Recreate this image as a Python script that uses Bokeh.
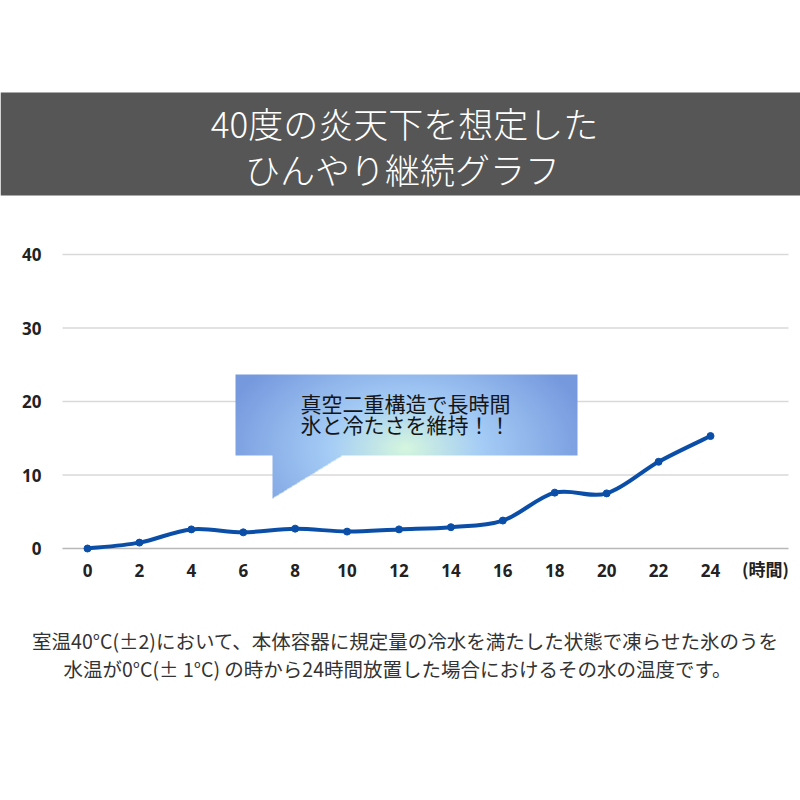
import numpy as np
from bokeh.plotting import figure
from bokeh.models import Range1d, LinearAxis, FixedTicker, Label, BoxAnnotation
from bokeh.embed import file_html
from bokeh.resources import INLINE

# ---- data ----
hours = [0, 2, 4, 6, 8, 10, 12, 14, 16, 18, 20, 22, 24]
temps = [0, 0.8, 2.6, 2.2, 2.7, 2.3, 2.6, 2.9, 3.8, 7.6, 7.5, 11.8, 15.3]
y_ticks = [0, 10, 20, 30, 40]
x_unit_label = "(時間)"
title_lines = ["40度の炎天下を想定した", "ひんやり継続グラフ"]
callout_lines = ["真空二重構造で長時間", "氷と冷たさを維持！！"]
note_lines = ["室温40°C(±2)において、本体容器に規定量の冷水を満たした状態で凍らせた氷のうを",
              "水温が0°C(± 1°C) の時から24時間放置した場合におけるその水の温度です。"]

# ---- pixel <-> data mapping (frame covers the whole canvas) ----
W = H = 800
X0, XS = 87.0, (710.0 - 87.0) / 24.0
Y0, YS = 548.0, (548.0 - 254.0) / 40.0
def px(v): return (v - X0) / XS
def py(v): return (Y0 - v) / YS

p = figure(width=W, height=H, output_backend="svg", toolbar_location=None,
           x_range=Range1d(px(0), px(W)), y_range=Range1d(py(H), py(0)),
           x_axis_type=None, y_axis_type=None, min_border=0)
p.outline_line_color = None
p.grid.visible = False
p.background_fill_color = "white"
p.border_fill_color = "white"

JP = "Noto Sans CJK JP"

# title band
p.add_layout(BoxAnnotation(left=px(0), right=px(W), top=py(92), bottom=py(195),
                           fill_color="#565656", fill_alpha=1, line_color=None, level="underlay"))
for i, t in enumerate(title_lines):
    p.add_layout(Label(x=px(404 if i == 0 else 402), y=py(122 + 46 * i), text=t, text_align="center",
                       text_baseline="middle", text_color="white", text_font_size="35px",
                       text_font="Noto Sans CJK JP Light, Noto Sans CJK JP"))

# grid lines
gl, gr = px(62), px(788)
p.segment(x0=[gl] * (len(y_ticks) - 1), y0=y_ticks[1:], x1=[gr] * (len(y_ticks) - 1), y1=y_ticks[1:],
          line_color="#d9d9d9", line_width=1.5)
p.segment(x0=[gl], y0=[y_ticks[0]], x1=[gr], y1=[y_ticks[0]], line_color="#b8b8b8", line_width=1.5)

# axes
xa = LinearAxis(fixed_location=0, ticker=FixedTicker(ticks=hours))
ya = LinearAxis(fixed_location=gl, ticker=FixedTicker(ticks=y_ticks))
for ax in (xa, ya):
    ax.axis_line_color = None
    ax.major_tick_line_color = None
    ax.minor_tick_line_color = None
    ax.major_label_text_font = "Open Sans"
    ax.major_label_text_font_style = "bold"
    ax.major_label_text_font_size = "17px"
    ax.major_label_text_color = "#222222"
xa.major_label_standoff = 9
ya.major_label_standoff = 15
p.add_layout(xa, "below")
p.add_layout(ya, "left")
p.add_layout(Label(x=px(765), y=py(568), text=x_unit_label, text_align="center",
                   text_baseline="middle", text_color="#222222", text_font_size="17px",
                   text_font=JP, text_font_style="bold"))

# callout (gradient image with mask)
L, R, T, B, TB = 235, 577, 374, 455, 498
w, h = R - L, TB - T
img = np.zeros((h, w), dtype=np.uint32)
view = img.view(dtype=np.uint8).reshape((h, w, 4))
xs = np.arange(w) + L + 0.5
for r in range(h):
    ypix = TB - r - 0.5
    d = np.sqrt(((xs - 405) / 190.0) ** 2 + ((ypix - 448) / 120.0) ** 2)
    d = np.clip(d, 0, 1)
    c0 = np.array([214, 247, 222]); c1 = np.array([165, 205, 246]); c2 = np.array([118, 153, 222])
    t1 = np.clip(d / 0.4, 0, 1)[:, None]
    t2 = np.clip((d - 0.4) / 0.6, 0, 1)[:, None]
    col = np.where(d[:, None] < 0.4, c0 + (c1 - c0) * t1, c1 + (c2 - c1) * t2)
    if ypix <= B:
        mask = np.ones(w, dtype=bool)
    else:
        xr = 272 + (342 - 272) * (TB - ypix) / (TB - B)
        mask = (xs >= 272) & (xs <= xr)
    view[r, :, 0] = col[:, 0]
    view[r, :, 1] = col[:, 1]
    view[r, :, 2] = col[:, 2]
    view[r, :, 3] = np.where(mask, 255, 0)
p.image_rgba(image=[img], x=px(L), y=py(TB), dw=w / XS, dh=h / YS)
for i, t in enumerate(callout_lines):
    p.add_layout(Label(x=px(405), y=py(402 + 21 * i), text=t, text_align="center",
                       text_baseline="middle", text_color="#151515", text_font_size="21px",
                       text_font=JP))

# smooth line through data (Catmull-Rom -> Bezier control points)
hx = np.array(hours, dtype=float); ty = np.array(temps, dtype=float)
n = len(hx)
ex = np.concatenate([[hx[0]], hx, [hx[-1]]]); ey = np.concatenate([[ty[0]], ty, [ty[-1]]])
x0 = hx[:-1]; y0 = ty[:-1]; x1 = hx[1:]; y1 = ty[1:]
cx0 = ex[1:n] + (ex[2:n + 1] - ex[0:n - 1]) / 6.0
cy0 = ey[1:n] + (ey[2:n + 1] - ey[0:n - 1]) / 6.0
cx1 = ex[2:n + 1] - (ex[3:n + 2] - ex[1:n]) / 6.0
cy1 = ey[2:n + 1] - (ey[3:n + 2] - ey[1:n]) / 6.0
p.bezier(x0=x0, y0=y0, x1=x1, y1=y1, cx0=cx0, cy0=cy0, cx1=cx1, cy1=cy1,
         line_color="#0B4EA8", line_width=4, line_cap="round")
p.scatter(hours, temps, size=7, color="#0B4EA8")

# footnote
for i, t in enumerate(note_lines):
    p.add_layout(Label(x=px(405 if i == 0 else 397), y=py(640 + 28 * i), text=t, text_align="center",
                       text_baseline="middle", text_color="#333333", text_font_size="19.5px",
                       text_font=JP))

open("out.html", "w").write(file_html(p, INLINE))
